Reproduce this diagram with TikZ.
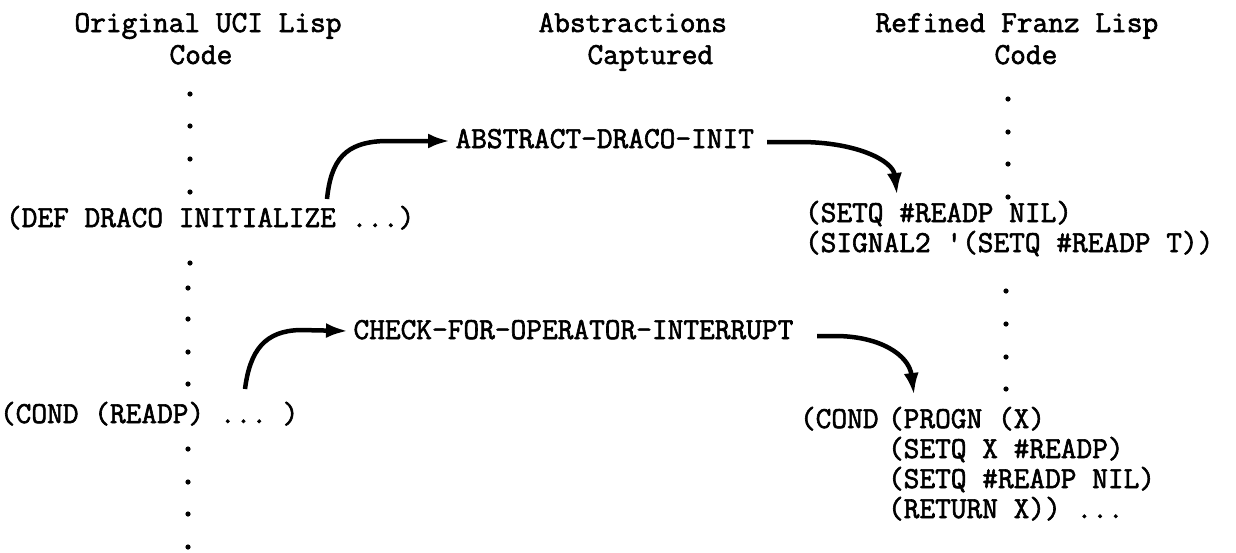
\documentclass[tikz,border=0pt]{standalone}
\usepackage{fontspec}
\setmonofont{Latin Modern Mono}[FakeBold=2]
\usetikzlibrary{arrows.meta}

\begin{document}
\begin{tikzpicture}[x=1pt,y=-1pt,
  code/.style={anchor=base west,inner sep=0pt,outer sep=0pt,
    font=\ttfamily\fontsize{30.5}{30.5}\selectfont},
  dot/.style={circle,fill=black,inner sep=0pt,minimum size=5.2pt},
  flow/.style={line width=4.5pt,-{Latex[length=22pt,width=15pt]}}]

% page frame
\fill[white] (0,0) rectangle (1236,552);
\useasboundingbox (0,0) rectangle (1236,552);

% column headings
\node[code] (h1a) at (74.5,32) {Original UCI Lisp};
\node[code] (h1b) at (169.5,64) {Code};
\node[code] (h2a) at (538.5,32) {Abstractions};
\node[code] (h2b) at (587.5,64) {Captured};
\node[code] (h3a) at (875.5,32) {Refined Franz Lisp};
\node[code] (h3b) at (994.5,64) {Code};

% original code column
\node[code] (def)  at (6,227)  {(DEF DRACO INITIALIZE ...)};
\node[code] (cond) at (0,423)  {(COND (READP) ... )};

% captured abstractions
\node[code] (absinit) at (455.5,148) {ABSTRACT-DRACO-INIT};
\node[code] (chkint)  at (353.5,339) {CHECK-FOR-OPERATOR-INTERRUPT};

% refined code column
\node[code] (setqa) at (805,222) {(SETQ \#READP NIL)};
\node[code] (sigb)  at (805,252) {(SIGNAL2 '(SETQ \#READP T))};
\node[code] (rcond) at (800,428) {(COND};
\node[code] (prgn)  at (888,428) {(PROGN (X)};
\node[code] (setx)  at (888,458) {(SETQ X \#READP)};
\node[code] (setn)  at (888,488) {(SETQ \#READP NIL)};
\node[code] (retx)  at (888,518) {(RETURN X)) ...};

% elided lines, left column
\foreach \y [count=\i] in {94,126,159,192,263}
  \node[dot] (ld\i) at (190,\y) {};
\foreach \y [count=\i] in {288,319,352,384,449,482,514,547}
  \node[dot] (lm\i) at (188,\y) {};
% elided lines, right column
\foreach \y [count=\i] in {99,132,164,197}
  \node[dot] (rd\i) at (1008,\y) {};
\foreach \y [count=\i] in {291,324,357,389}
  \node[dot] (rm\i) at (1006,\y) {};

% connector end points
\coordinate (defout) at (327,199);
\coordinate (absin)  at (450,141);
\coordinate (absout) at (767,142);
\coordinate (setin)  at (897,195);
\coordinate (condout) at (245,389);
\coordinate (chkin)  at (348,331);
\coordinate (chkout) at (817,336);
\coordinate (progin) at (914,395);

% connectors
\draw[flow] (defout) .. controls (331,160) and (345,142) .. (385,141) -- (absin);
\draw[flow] (absout) -- (800,142) .. controls (855,142) and (893,160) .. (setin);
\draw[flow] (condout) .. controls (250,350) and (265,331) .. (300,330) -- (chkin);
\draw[flow] (chkout) -- (835,336) .. controls (880,336) and (909,355) .. (progin);
\end{tikzpicture}
\end{document}
